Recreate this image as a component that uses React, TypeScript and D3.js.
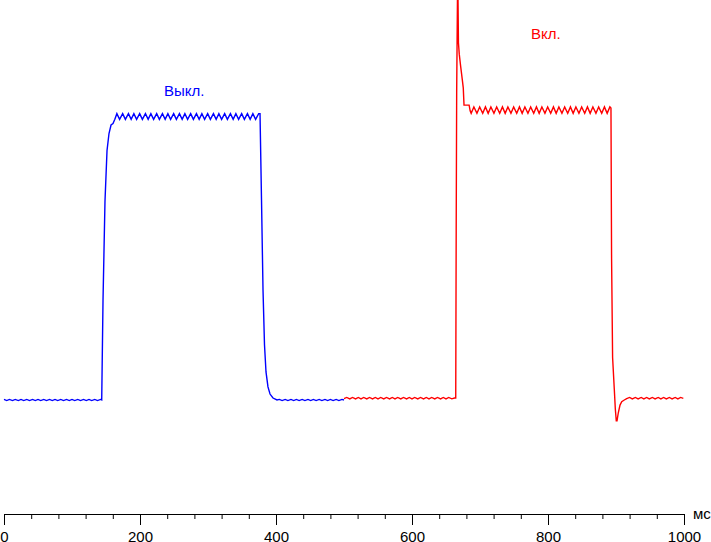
import React, { useEffect, useRef } from "react";
import * as d3 from "d3";

const WIDTH = 711;
const HEIGHT = 542;

// x axis (ms)
const majorTicks = [0, 200, 400, 600, 800, 1000];
const minorTicks = [0, 40, 80, 120, 160, 200, 240, 280, 320, 360, 400, 440, 480, 520, 560, 600, 640, 680, 720, 760, 800, 840, 880, 920, 960, 1000];
const unitLabel = "мс";

const blueLabel = "Выкл.";
const redLabel = "Вкл.";

// [time ms, relative level]
const blueSeries: [number, number][] = [
  [0, 0.2], [4, -0.2], [8, 0.2], [12.5, -0.2], [16.5, 0.2], [21, -0.2], [25, 0.2], [29, -0.2], [33.5, 0.2], [37.5, -0.2],
  [42, 0.2], [46, -0.2], [50, 0.2], [54, -0.2], [58.5, 0.2], [62.5, -0.2], [67, 0.2], [71, -0.2], [75, 0.2], [79, -0.2],
  [83.5, 0.2], [87.5, -0.2], [92, 0.2], [96, -0.2], [100, 0.2], [104, -0.2], [108.5, 0.2], [112.5, -0.2], [117, 0.2], [121, -0.2],
  [125, 0.2], [129, -0.2], [133.5, 0.2], [137.5, -0.2], [142, 0.2], [143.7, 0],
  [145.6, 35], [148.5, 70], [151.5, 88], [154.4, 94], [157.4, 97], [160.3, 97.5], [163, 99], [166, 101],
  [170, 99], [174.5, 101], [178.5, 99], [183, 101], [187, 99], [191, 101], [195, 99], [199.5, 101], [203.5, 99], [208, 101],
  [212, 99], [216, 101], [220, 99], [224.5, 101], [228.5, 99], [233, 101], [237, 99], [241, 101], [245, 99], [249.5, 101],
  [253.5, 99], [258, 101], [262, 99], [266, 101], [270, 99], [274.5, 101], [278.5, 99], [283, 101], [287, 99], [291, 101],
  [295, 99], [299.5, 101], [303.5, 99], [308, 101], [312, 99], [316, 101], [320, 99], [324.5, 101], [328.5, 99], [333, 101],
  [337, 99], [341, 101], [345, 99], [349.5, 101], [353.5, 99], [358, 101], [362, 99], [366, 101], [370, 99], [374.5, 101],
  [376.5, 101],
  [378.7, 70.5], [380.9, 38.8], [383.1, 19.4], [385.3, 9.9], [388.2, 4.6], [391.2, 2.1], [395.6, 0.7], [401.5, 0],
  [405, 0.2], [409, -0.2], [413.5, 0.2], [417.5, -0.2], [422, 0.2], [426, -0.2], [430, 0.2], [434, -0.2], [438.5, 0.2], [442.5, -0.2],
  [447, 0.2], [451, -0.2], [455, 0.2], [459, -0.2], [463.5, 0.2], [467.5, -0.2], [472, 0.2], [476, -0.2], [480, 0.2], [484, -0.2],
  [488.5, 0.2], [492.5, -0.2], [497, 0.2], [500, 0],
];

const redSeries: [number, number][] = [
  [500, 0.5], [504, 0.9], [508.5, 0.4], [512.5, 0.9], [517, 0.4], [521, 0.9], [525, 0.4], [529, 0.9], [533.5, 0.4], [537.5, 0.9],
  [542, 0.4], [546, 0.9], [550, 0.4], [554, 0.9], [558.5, 0.4], [562.5, 0.9], [567, 0.4], [571, 0.9], [575, 0.4], [579, 0.9],
  [583.5, 0.4], [587.5, 0.9], [592, 0.4], [596, 0.9], [600, 0.4], [604, 0.9], [608.5, 0.4], [612.5, 0.9], [617, 0.4], [621, 0.9],
  [625, 0.4], [629, 0.9], [633.5, 0.4], [637.5, 0.9], [642, 0.4], [646, 0.9], [650, 0.4], [654, 0.9], [658.5, 0.4], [662.5, 0.7],
  [664.3, 0.7], [665, 60], [665.7, 108.6], [666.3, 126], [666.9, 143], [667.6, 143], [668.3, 126], [669.5, 122], [671.6, 117.6],
  [674, 112.9], [675.4, 110.1], [676.5, 104], [684, 104], [685.5, 102],
  [687, 101.1], [691, 103.4], [695.5, 101.1], [699.5, 103.4], [704, 101.1], [708, 103.4], [712, 101.1], [716, 103.4], [720.5, 101.1], [724.5, 103.4],
  [729, 101.1], [733, 103.4], [737, 101.1], [741, 103.4], [745.5, 101.1], [749.5, 103.4], [754, 101.1], [758, 103.4], [762, 101.1], [766, 103.4],
  [770.5, 101.1], [774.5, 103.4], [779, 101.1], [783, 103.4], [787, 101.1], [791, 103.4], [795.5, 101.1], [799.5, 103.4], [804, 101.1], [808, 103.4],
  [812, 101.1], [816, 103.4], [820.5, 101.1], [824.5, 103.4], [829, 101.1], [833, 103.4], [837, 101.1], [841, 103.4], [845.5, 101.1], [849.5, 103.4],
  [854, 101.1], [858, 103.4], [862, 101.1], [866, 103.4], [870.5, 101.1], [874.5, 103.4], [879, 101.1], [883, 103.4], [887, 101.1], [891, 103.4],
  [892.6, 103],
  [893.5, 50], [895, 15], [897.5, 3.8], [899, -3.2], [900.4, -7.3], [901.5, -7.3], [903.4, -4.5], [905.9, -1.8], [908.4, -0.6], [912.2, 0], [915.7, 0.5],
  [920, 0.9], [924, 0.4], [928.5, 0.9], [932.5, 0.4], [937, 0.9], [941, 0.4], [945, 0.9], [949, 0.4], [953.5, 0.9], [957.5, 0.4],
  [962, 0.9], [966, 0.4], [970, 0.9], [974, 0.4], [978.5, 0.9], [982.5, 0.4], [987, 0.9], [991, 0.4], [995, 0.9], [999, 0.6],
];

export default function App() {
  const ref = useRef<SVGSVGElement | null>(null);

  useEffect(() => {
    const svg = d3.select(ref.current);
    svg.selectAll("*").remove();

    const x = d3.scaleLinear().domain([0, 1000]).range([4, 684]);
    const y = d3.scaleLinear().domain([0, 100]).range([400, 116.5]);

    const line = d3
      .line<[number, number]>()
      .x((d) => x(d[0]))
      .y((d) => y(d[1]));

    svg
      .append("path")
      .datum(blueSeries)
      .attr("d", line)
      .attr("fill", "none")
      .attr("stroke", "#0000ff")
      .attr("stroke-width", 1.4)
      .attr("stroke-linejoin", "miter");

    svg
      .append("path")
      .datum(redSeries)
      .attr("d", line)
      .attr("fill", "none")
      .attr("stroke", "#ff0000")
      .attr("stroke-width", 1.4)
      .attr("stroke-linejoin", "miter");

    const axisY = 514;
    const minor = svg.append("g").attr("transform", `translate(0,${axisY})`);
    minor.call(
      d3.axisBottom(x).tickValues(minorTicks).tickSize(5).tickSizeOuter(0).tickFormat(() => "")
    );
    const major = svg.append("g").attr("transform", `translate(0,${axisY})`);
    major.call(
      d3
        .axisBottom(x)
        .tickValues(majorTicks)
        .tickSize(11)
        .tickSizeOuter(0)
        .tickPadding(6)
        .tickFormat((d) => String(d))
    );
    major.select(".domain").remove();
    svg.selectAll(".tick text")
      .attr("font-family", "'Liberation Sans', Arial, sans-serif")
      .attr("font-size", 15)
      .attr("fill", "#000");
    svg.selectAll(".tick line, .domain").attr("stroke", "#000");

    svg
      .append("text")
      .attr("x", 693)
      .attr("y", 518.5)
      .attr("font-family", "'Liberation Sans', Arial, sans-serif")
      .attr("font-size", 15)
      .attr("fill", "#000")
      .text(unitLabel);

    svg
      .append("text")
      .attr("x", 164)
      .attr("y", 96)
      .attr("font-family", "'Liberation Sans', Arial, sans-serif")
      .attr("font-size", 15)
      .attr("fill", "#0000ff")
      .text(blueLabel);

    svg
      .append("text")
      .attr("x", 531)
      .attr("y", 39)
      .attr("font-family", "'Liberation Sans', Arial, sans-serif")
      .attr("font-size", 15)
      .attr("fill", "#ff0000")
      .text(redLabel);
  }, []);

  return (
    <div style={{ position: "absolute", left: 0, top: 0 }}>
      <svg
        ref={ref}
        width={WIDTH}
        height={HEIGHT}
        style={{ display: "block", background: "#fff" }}
      />
    </div>
  );
}
